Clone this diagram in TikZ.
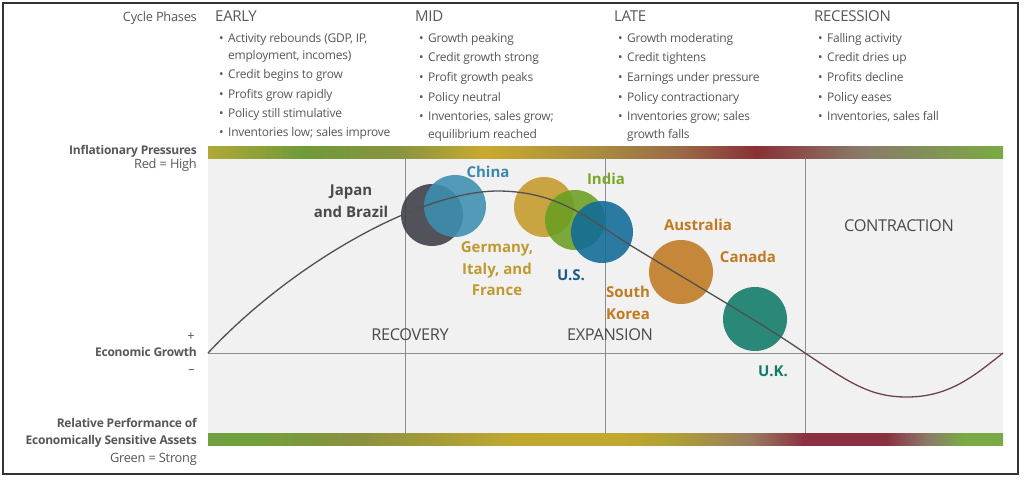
\documentclass[tikz,border=0pt]{standalone}
\usepackage{fontspec}
\setmainfont{Open Sans}
\definecolor{tb0}{HTML}{B0A838}
\definecolor{tb1}{HTML}{6F9A3A}
\definecolor{tb2}{HTML}{8A9440}
\definecolor{tb3}{HTML}{C8AA30}
\definecolor{tb4}{HTML}{A88A40}
\definecolor{tb5}{HTML}{9A6A48}
\definecolor{tb6}{HTML}{8A3035}
\definecolor{tb7}{HTML}{8A7A68}
\definecolor{tb8}{HTML}{7AAA45}
\definecolor{bb0}{HTML}{70A040}
\definecolor{bb1}{HTML}{72A03E}
\definecolor{bb2}{HTML}{8A9040}
\definecolor{bb3}{HTML}{C0A830}
\definecolor{bb4}{HTML}{C2A82E}
\definecolor{bb5}{HTML}{B0A035}
\definecolor{bb6}{HTML}{9A7A60}
\definecolor{bb7}{HTML}{8A3040}
\definecolor{bb8}{HTML}{8A3040}
\definecolor{bb9}{HTML}{8A7A68}
\definecolor{bb10}{HTML}{7AAA45}
\definecolor{panel}{HTML}{F1F1F1}
\definecolor{gridc}{HTML}{8C8C8C}
\definecolor{txt}{HTML}{575757}
\definecolor{lbl}{HTML}{4A4A4A}
\definecolor{cJap}{HTML}{3C3C46}
\definecolor{cChi}{HTML}{3C8FB0}
\definecolor{cInd}{HTML}{6A9E22}
\definecolor{cGer}{HTML}{C49A28}
\definecolor{cUS}{HTML}{106A98}
\definecolor{cAus}{HTML}{C07A22}
\definecolor{cUK}{HTML}{0E7A68}
\definecolor{tChi}{HTML}{3A88AA}
\definecolor{tInd}{HTML}{78A82A}
\definecolor{tGer}{HTML}{BF9A30}
\definecolor{tUS}{HTML}{1A5A8A}
\definecolor{tAus}{HTML}{C07A20}
\definecolor{tUK}{HTML}{127A6A}
\definecolor{curveA}{HTML}{505050}
\definecolor{curveB}{HTML}{6E4448}
\pgfdeclarehorizontalshading{topbar}{100bp}{color(0bp)=(tb0); color(25bp)=(tb0); color(31.1bp)=(tb1); color(37.1bp)=(tb2); color(42.4bp)=(tb3); color(49.7bp)=(tb4); color(54.7bp)=(tb5); color(59.5bp)=(tb6); color(66bp)=(tb7); color(75bp)=(tb8); color(100bp)=(tb8)}
\pgfdeclarehorizontalshading{botbar}{100bp}{color(0bp)=(bb0); color(25bp)=(bb0); color(28bp)=(bb1); color(34.4bp)=(bb2); color(44.3bp)=(bb3); color(50.9bp)=(bb4); color(54.2bp)=(bb5); color(59.2bp)=(bb6); color(62.5bp)=(bb7); color(67.6bp)=(bb8); color(70.2bp)=(bb9); color(72.5bp)=(bb10); color(75bp)=(bb10); color(100bp)=(bb10)}
\newcommand{\bul}{\llap{\textbullet\hspace{4.5pt}}}
\begin{document}
\begin{tikzpicture}[x=1pt,y=-1pt,
  hd/.style={anchor=mid west, inner sep=0pt, text=txt, font=\fontsize{15}{17}\selectfont\addfontfeatures{LetterSpace=-2}},
  bl/.style={anchor=mid west, inner sep=0pt, text=txt, font=\fontsize{12}{13}\selectfont\addfontfeatures{LetterSpace=-2}},
  side/.style={anchor=mid east, inner sep=0pt, text=txt, font=\fontsize{12.8}{14}\selectfont\addfontfeatures{LetterSpace=-2}},
  sideb/.style={side, font=\bfseries\fontsize{12}{14}\selectfont\addfontfeatures{LetterSpace=-2}},
  ctry/.style={inner sep=0pt, align=center, font=\bfseries\fontsize{15}{21.5}\selectfont},
  phase/.style={inner sep=0pt, text=lbl, font=\fontsize{16.3}{18}\selectfont\addfontfeatures{LetterSpace=-2}},
  bub/.style={circle, inner sep=0pt, fill opacity=0.88, draw=none},
  gridl/.style={draw=gridc, line width=0.9pt}]
\useasboundingbox (0,0) rectangle (1024,479);
\fill[white] (0,0) rectangle (1024,479);
\draw[line width=1.4pt, draw=black!80] (3,3) rectangle (1018,474);
% panel and bars
\fill[panel] (208,158) rectangle (1003,433);
\shade[shading=topbar] (208,146) rectangle (1003,158);
\shade[shading=botbar] (208,433) rectangle (1003,445);
% grid
\draw[gridl] (405,158) -- (405,433);
\draw[gridl] (605,158) -- (605,433);
\draw[gridl] (805,158) -- (805,433);
\draw[gridl] (208,353) -- (1003,353);
% bubbles
\node[bub, fill=cJap, minimum size=62pt] (bJap) at (432,215) {};
\node[bub, fill=cChi, minimum size=62pt] (bChi) at (455,206) {};
\node[bub, fill=cGer, minimum size=60pt] (bGer) at (544,207) {};
\node[bub, fill=cInd, minimum size=60pt] (bInd) at (575,220) {};
\node[bub, fill=cUS, minimum size=62pt] (bUS) at (602,232) {};
\node[bub, fill=cAus, minimum size=64pt] (bAus) at (681,272) {};
\node[bub, fill=cUK, minimum size=64pt] (bUK) at (755,319) {};
% curve
\draw[curveA, line width=1.3pt] (208,353) .. controls (290,265) and (420,190) .. (500,191)
  .. controls (560,192) and (590,220) .. (630,245) .. controls (700,288) and (760,322) .. (805,353);
\draw[curveB, line width=1.3pt] (805,353) .. controls (850,383) and (870,397) .. (907,397)
  .. controls (950,397) and (975,375) .. (1003,353);
% country labels
\node[ctry, text=lbl] (lJap) at (351,201) {Japan\\and Brazil};
\node[ctry, text=tChi] (lChi) at (488,172) {China};
\node[ctry, text=tInd] (lInd) at (606,179) {India};
\node[ctry, text=tGer] (lGer) at (497,269) {Germany,\\Italy, and\\France};
\node[ctry, text=tUS] (lUS) at (571,275) {U.S.};
\node[ctry, text=tAus] (lAus) at (698,225) {Australia};
\node[ctry, text=tAus] (lCan) at (748,257) {Canada};
\node[ctry, text=tAus] (lSK) at (628,303) {South\\Korea};
\node[ctry, text=tUK] (lUK) at (773,371) {U.K.};
% phase labels
\node[phase] (pRec) at (410,335) {RECOVERY};
\node[phase] (pExp) at (610,335) {EXPANSION};
\node[phase] (pCon) at (899,226) {CONTRACTION};
% side labels
\node[side] (sCyc) at (197,19) {Cycle Phases};
\node[sideb] (sInf) at (197,152) {Inflationary Pressures};
\node[side] (sRed) at (197,166) {Red = High};
\node[side] (sPlus) at (195,338) {+};
\node[sideb] (sEco) at (197,354) {Economic Growth};
\node[side] (sMinus) at (195,371) {\textendash};
\node[sideb] (sRel) at (197,425) {Relative Performance of};
\node[sideb] (sEcs) at (197,442) {Economically Sensitive Assets};
\node[side] (sGre) at (197,460) {Green = Strong};
% headers
\node[hd] (hE) at (215,19) {EARLY};
\node[hd] (hM) at (415,19) {MID};
\node[hd] (hL) at (614,19) {LATE};
\node[hd] (hR) at (814,19) {RECESSION};
% EARLY
\node[bl] (e1) at (228,40) {\bul Activity rebounds (GDP, IP,};
\node[bl] (e1b) at (228,57) {employment, incomes)};
\node[bl] (e2) at (228,76) {\bul Credit begins to grow};
\node[bl] (e3) at (228,96) {\bul Profits grow rapidly};
\node[bl] (e4) at (228,115) {\bul Policy still stimulative};
\node[bl] (e5) at (228,134) {\bul Inventories low; sales improve};
% MID
\node[bl] (m1) at (428,40) {\bul Growth peaking};
\node[bl] (m2) at (428,59) {\bul Credit growth strong};
\node[bl] (m3) at (428,79) {\bul Profit growth peaks};
\node[bl] (m4) at (428,99) {\bul Policy neutral};
\node[bl] (m5) at (428,118) {\bul Inventories, sales grow;};
\node[bl] (m5b) at (428,136) {equilibrium reached};
% LATE
\node[bl] (l1) at (627,40) {\bul Growth moderating};
\node[bl] (l2) at (627,59) {\bul Credit tightens};
\node[bl] (l3) at (627,79) {\bul Earnings under pressure};
\node[bl] (l4) at (627,99) {\bul Policy contractionary};
\node[bl] (l5) at (627,118) {\bul Inventories grow; sales};
\node[bl] (l5b) at (627,136) {growth falls};
% RECESSION
\node[bl] (r1) at (827,40) {\bul Falling activity};
\node[bl] (r2) at (827,59) {\bul Credit dries up};
\node[bl] (r3) at (827,79) {\bul Profits decline};
\node[bl] (r4) at (827,99) {\bul Policy eases};
\node[bl] (r5) at (827,118) {\bul Inventories, sales fall};
\end{tikzpicture}
\end{document}
